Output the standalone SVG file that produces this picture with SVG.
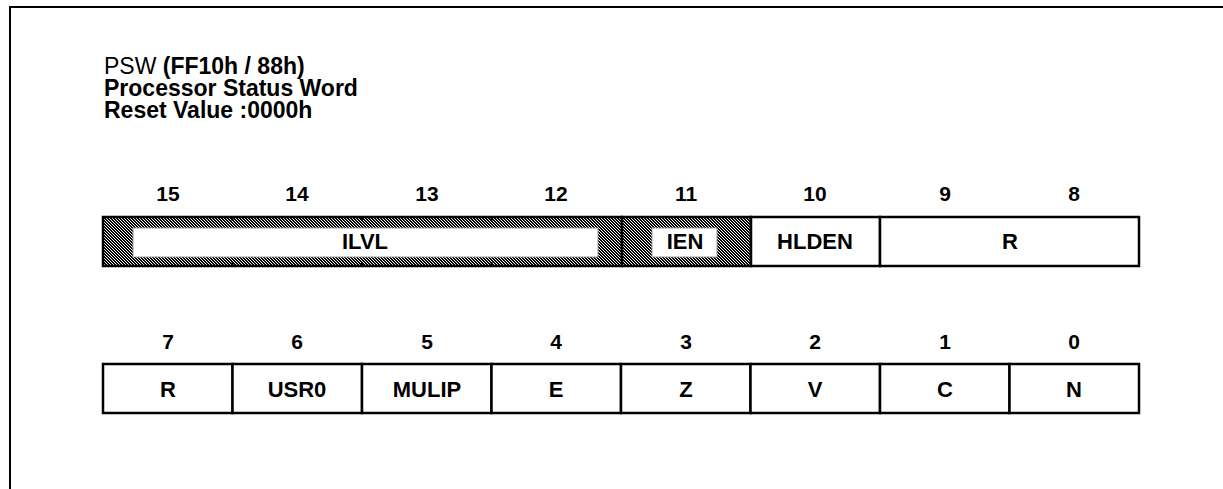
<svg xmlns="http://www.w3.org/2000/svg" width="1223" height="489" viewBox="0 0 1223 489">
  <defs>
    <!-- fine diagonal dither used for the shaded fields -->
    <pattern id="dither" width="3" height="3" patternUnits="userSpaceOnUse">
      <rect width="3" height="3" fill="#ffffff"/>
      <rect x="0" y="0" width="2" height="1" fill="#000"/>
      <rect x="1" y="1" width="2" height="1" fill="#000"/>
      <rect x="2" y="2" width="1" height="1" fill="#000"/>
      <rect x="0" y="2" width="1" height="1" fill="#000"/>
    </pattern>
  </defs>
  <style>
    .frame { fill: none; stroke: #000; stroke-width: 2; }
    .cell { fill: #fff; stroke: #000; stroke-width: 2.5; }
    .hatch { fill: url(#dither); stroke: #000; stroke-width: 2.5; }
    .inner { fill: #fff; stroke: #9a9a9a; stroke-width: 1; }
    .tick { stroke: #000; stroke-width: 2; }
    text { font-family: "Liberation Sans", Arial, sans-serif; fill: #000; }
    .title { font-size: 23px; font-weight: bold; }
    .reg { font-weight: normal; }
    .num { font-size: 21px; font-weight: bold; text-anchor: middle; }
    .lbl { font-size: 22px; font-weight: bold; text-anchor: middle; }
  </style>

  <rect width="1223" height="489" fill="#fff"/>

  <!-- page frame: left and top edges only -->
  <polyline class="frame" points="10,489 10,7 1223,7"/>

  <!-- register heading (tight leading) -->
  <g id="heading">
    <text class="title" x="104" y="74"><tspan class="reg">PSW</tspan> (FF10h / 88h)</text>
    <text class="title" x="104" y="96">Processor Status Word</text>
    <text class="title" x="104" y="118">Reset Value :0000h</text>
  </g>

  <!-- upper byte: bits 15..8 -->
  <g id="bitnums-high">
    <text class="num" x="168" y="201">15</text>
    <text class="num" x="297" y="201">14</text>
    <text class="num" x="427" y="201">13</text>
    <text class="num" x="556" y="201">12</text>
    <text class="num" x="686" y="201">11</text>
    <text class="num" x="815" y="201">10</text>
    <text class="num" x="945" y="201">9</text>
    <text class="num" x="1074" y="201">8</text>
  </g>

  <g id="field-ILVL">
    <rect class="hatch" x="103" y="217" width="519" height="49"/>
    <rect class="inner" x="133" y="228" width="465" height="29"/>
    <line class="tick" x1="232.5" y1="217" x2="232.5" y2="221"/>
    <line class="tick" x1="362" y1="217" x2="362" y2="221"/>
    <line class="tick" x1="491.5" y1="217" x2="491.5" y2="221"/>
    <line class="tick" x1="232.5" y1="262" x2="232.5" y2="266"/>
    <line class="tick" x1="362" y1="262" x2="362" y2="266"/>
    <line class="tick" x1="491.5" y1="262" x2="491.5" y2="266"/>
    <text class="lbl" x="365" y="249">ILVL</text>
  </g>

  <g id="field-IEN">
    <rect class="hatch" x="622" y="217" width="129" height="49"/>
    <rect class="inner" x="652" y="228" width="65" height="29"/>
    <text class="lbl" x="685" y="249">IEN</text>
  </g>

  <g id="field-HLDEN">
    <rect class="cell" x="751" y="217" width="129" height="49"/>
    <text class="lbl" x="815" y="249">HLDEN</text>
  </g>

  <g id="field-R-high">
    <rect class="cell" x="880" y="217" width="259" height="49"/>
    <text class="lbl" x="1010" y="249">R</text>
  </g>

  <!-- lower byte: bits 7..0 -->
  <g id="bitnums-low">
    <text class="num" x="168" y="349">7</text>
    <text class="num" x="297" y="349">6</text>
    <text class="num" x="427" y="349">5</text>
    <text class="num" x="556" y="349">4</text>
    <text class="num" x="686" y="349">3</text>
    <text class="num" x="815" y="349">2</text>
    <text class="num" x="945" y="349">1</text>
    <text class="num" x="1074" y="349">0</text>
  </g>

  <g id="field-R-low">
    <rect class="cell" x="103" y="364" width="129.5" height="49"/>
    <text class="lbl" x="168" y="397">R</text>
  </g>
  <g id="field-USR0">
    <rect class="cell" x="232.5" y="364" width="129.5" height="49"/>
    <text class="lbl" x="297" y="397">USR0</text>
  </g>
  <g id="field-MULIP">
    <rect class="cell" x="362" y="364" width="129.5" height="49"/>
    <text class="lbl" x="427" y="397">MULIP</text>
  </g>
  <g id="field-E">
    <rect class="cell" x="491.5" y="364" width="129.5" height="49"/>
    <text class="lbl" x="556" y="397">E</text>
  </g>
  <g id="field-Z">
    <rect class="cell" x="621" y="364" width="129.5" height="49"/>
    <text class="lbl" x="686" y="397">Z</text>
  </g>
  <g id="field-V">
    <rect class="cell" x="750.5" y="364" width="129.5" height="49"/>
    <text class="lbl" x="815" y="397">V</text>
  </g>
  <g id="field-C">
    <rect class="cell" x="880" y="364" width="129.5" height="49"/>
    <text class="lbl" x="945" y="397">C</text>
  </g>
  <g id="field-N">
    <rect class="cell" x="1009.5" y="364" width="129.5" height="49"/>
    <text class="lbl" x="1074" y="397">N</text>
  </g>
</svg>
